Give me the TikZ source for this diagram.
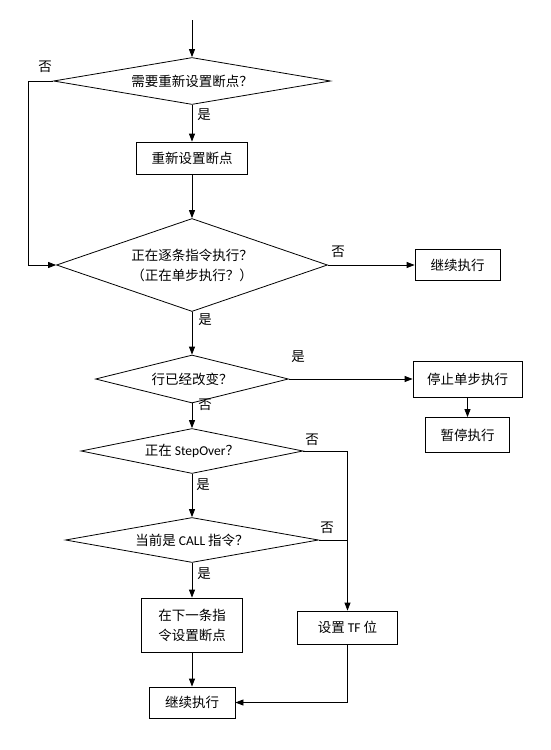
\documentclass[tikz,border=0pt]{standalone}
\usepackage{fontspec}
\setmainfont{Noto Sans CJK SC}
\newfontfamily\latfont{Carlito}
\newcommand\lat[1]{{\latfont #1}}
\usetikzlibrary{shapes.geometric,arrows.meta}
\begin{document}
\begin{tikzpicture}[x=1pt,y=-1pt,
  line width=0.8pt,
  txt/.style={font=\fontsize{13.5}{20}\selectfont},
  dec/.style={diamond,draw,txt,inner sep=0pt,align=center},
  box/.style={rectangle,draw,txt,inner sep=0pt,align=center},
  lbl/.style={txt,inner sep=0pt},
  arr/.style={-{Triangle[length=8pt,width=6pt]}}]
\useasboundingbox[fill=white] (0,0) rectangle (550,750);
\coordinate (start) at (192,20);
\node[dec,aspect=5.9,minimum width=277,minimum height=47] (d1) at (192,81) {需要重新设置断点？};
\node[box,minimum width=111,minimum height=32] (b1) at (192,158) {重新设置断点};
\node[dec,aspect=2.9,minimum width=271,minimum height=93] (d2) at (192,265) {正在逐条指令执行？\\（正在单步执行？）};
\node[box,minimum width=85,minimum height=31] (b2) at (457.5,265) {继续执行};
\node[dec,aspect=4,minimum width=193,minimum height=48] (d3) at (192,379) {行已经改变？};
\node[box,minimum width=109,minimum height=36] (b3) at (467.5,379) {停止单步执行};
\node[box,minimum width=84,minimum height=35] (b4) at (467.5,435) {暂停执行};
\node[dec,aspect=4.9,minimum width=222,minimum height=45] (d4) at (192,451) {正在 \lat{StepOver}？};
\node[dec,aspect=5.6,minimum width=253,minimum height=45] (d5) at (192,540) {当前是 \lat{CALL} 指令？};
\node[box,minimum width=101,minimum height=54] (b5) at (192,625) {在下一条指\\令设置断点};
\node[box,minimum width=100,minimum height=33] (b6) at (347.5,627.5) {设置 \lat{TF} 位};
\node[box,minimum width=86,minimum height=31] (b7) at (192,702.5) {继续执行};
% labels
\node[lbl] (l1) at (45,67) {否};
\node[lbl] (l2) at (204,115) {是};
\node[lbl] (l3) at (338,252) {否};
\node[lbl] (l4) at (205,320) {是};
\node[lbl] (l5) at (298,357) {是};
\node[lbl] (l6) at (205,405) {否};
\node[lbl] (l7) at (312,440) {否};
\node[lbl] (l8) at (203,485) {是};
\node[lbl] (l9) at (327,528) {否};
\node[lbl] (l10) at (204,574) {是};
% connectors
\coordinate (loop) at (28,81);
\draw[arr] (start) -- (d1.north);
\draw[arr] (d1.west) -- (loop) |- (d2.west);
\draw[arr] (d1.south) -- (b1.north);
\draw[arr] (b1.south) -- (d2.north);
\draw[arr] (d2.east) -- (b2.west);
\draw[arr] (d2.south) -- (d3.north);
\draw[arr] (d3.east) -- (b3.west);
\draw[arr] (b3.south) -- (b4.north);
\draw[arr] (d3.south) -- (d4.north);
\draw[arr] (d4.east) -| (b6.north);
\draw (d5.east) -- (d5.east -| b6.north);
\draw[arr] (d4.south) -- (d5.north);
\draw[arr] (d5.south) -- (b5.north);
\draw[arr] (b5.south) -- (b7.north);
\draw[arr] (b6.south) |- (b7.east);
\end{tikzpicture}
\end{document}
